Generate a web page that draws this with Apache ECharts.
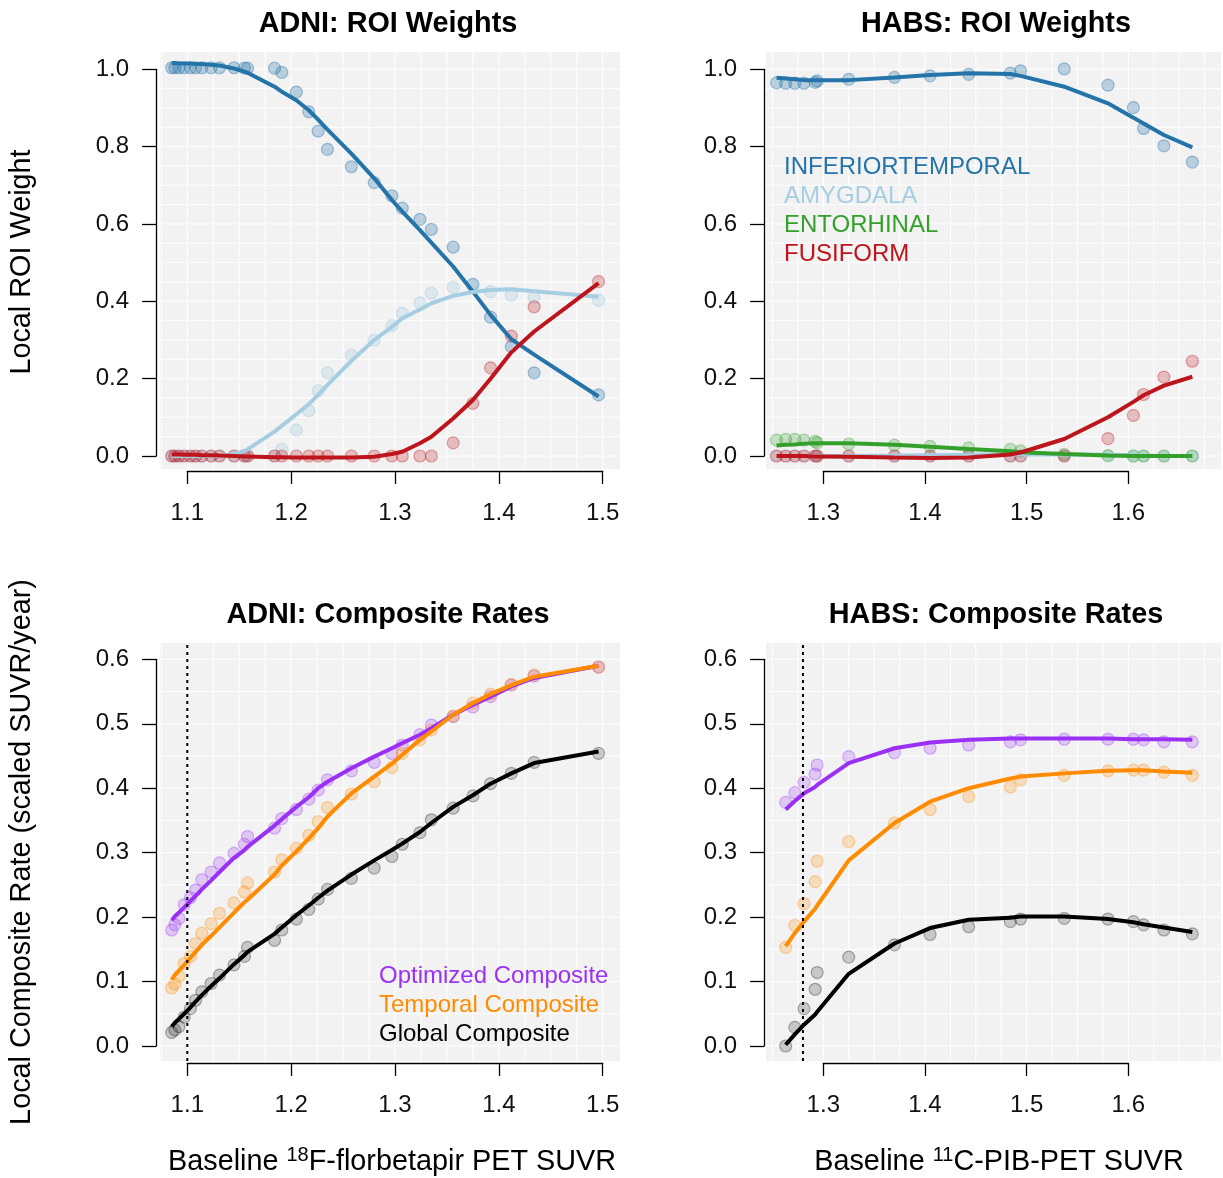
<!DOCTYPE html>
<html><head><meta charset="utf-8">
<script src="https://cdn.jsdelivr.net/npm/echarts@6/dist/echarts.min.js"></script>
<style>html,body{margin:0;padding:0;background:#fff}#c{width:1223px;height:1178px}</style>
</head><body><div id="c"></div>
<script>
// ================= DATA =================
const roiNames = ['INFERIORTEMPORAL', 'AMYGDALA', 'ENTORHINAL', 'FUSIFORM'];
const compNames = ['Optimized Composite', 'Temporal Composite', 'Global Composite'];
const panelTitles = ['ADNI: ROI Weights', 'HABS: ROI Weights', 'ADNI: Composite Rates', 'HABS: Composite Rates'];

const adniXTicks = [1.1, 1.2, 1.3, 1.4, 1.5];
const habsXTicks = [1.3, 1.4, 1.5, 1.6];
const roiYTicks = [0.0, 0.2, 0.4, 0.6, 0.8, 1.0];
const rateYTicks = [0.0, 0.1, 0.2, 0.3, 0.4, 0.5, 0.6];

const adniThreshold = 1.1;
const habsThreshold = 1.28;

// ADNI baseline SUVR bins
const adniX = [1.085, 1.088, 1.092, 1.097, 1.103, 1.108, 1.114, 1.123, 1.131, 1.145, 1.155, 1.158, 1.184, 1.191, 1.205, 1.217, 1.226, 1.235, 1.258, 1.280, 1.297, 1.307, 1.324, 1.335, 1.356, 1.375, 1.392, 1.412, 1.434, 1.496];
const adniInfTempPts = [1.004, 1.004, 1.004, 1.004, 1.004, 1.004, 1.004, 1.004, 1.004, 1.004, 1.003, 1.003, 1.003, 0.992, 0.941, 0.890, 0.840, 0.793, 0.748, 0.707, 0.673, 0.641, 0.612, 0.586, 0.540, 0.444, 0.359, 0.283, 0.215, 0.158];
const adniInfTempFit = [1.016, 1.016, 1.015, 1.015, 1.015, 1.014, 1.014, 1.012, 1.010, 1.002, 0.994, 0.991, 0.955, 0.942, 0.920, 0.894, 0.870, 0.844, 0.782, 0.718, 0.662, 0.632, 0.584, 0.552, 0.490, 0.425, 0.365, 0.302, 0.262, 0.154];
const adniAmygPts = [0, 0, 0, 0, 0, 0, 0, 0, 0, 0, 0, 0, 0, 0.017, 0.067, 0.117, 0.169, 0.215, 0.261, 0.300, 0.337, 0.369, 0.396, 0.421, 0.436, 0.440, 0.425, 0.416, 0.410, 0.403];
const adniAmygFit = [0, 0, 0, 0, 0, 0, 0, 0, 0, 0.005, 0.013, 0.017, 0.063, 0.078, 0.108, 0.134, 0.158, 0.184, 0.246, 0.300, 0.334, 0.356, 0.379, 0.395, 0.414, 0.424, 0.429, 0.431, 0.426, 0.412];
const adniFusiPts = [0, 0, 0, 0, 0, 0, 0, 0, 0, 0, 0, 0, 0, 0, 0, 0, 0, 0, 0, 0, 0, 0, 0, 0, 0.034, 0.136, 0.228, 0.310, 0.386, 0.451];
const adniFusiFit = [0.004, 0.004, 0.004, 0.003, 0.003, 0.003, 0.002, 0.002, 0.001, 0.000, -0.001, -0.001, -0.003, -0.003, -0.004, -0.004, -0.004, -0.004, -0.004, -0.002, 0.005, 0.011, 0.033, 0.050, 0.097, 0.145, 0.200, 0.268, 0.322, 0.447];

const adniOptPts = [0.180, 0.188, 0.198, 0.219, 0.230, 0.242, 0.258, 0.270, 0.284, 0.299, 0.313, 0.325, 0.338, 0.353, 0.367, 0.383, 0.397, 0.413, 0.427, 0.440, 0.454, 0.467, 0.483, 0.498, 0.511, 0.526, 0.542, 0.560, 0.574, 0.588];
const adniOptFit = [0.195, 0.201, 0.207, 0.215, 0.225, 0.233, 0.243, 0.257, 0.270, 0.292, 0.304, 0.309, 0.342, 0.352, 0.371, 0.386, 0.400, 0.410, 0.431, 0.449, 0.462, 0.470, 0.483, 0.493, 0.514, 0.529, 0.542, 0.558, 0.571, 0.590];
const adniTempPts = [0.090, 0.096, 0.108, 0.128, 0.139, 0.159, 0.175, 0.190, 0.206, 0.222, 0.239, 0.253, 0.270, 0.289, 0.307, 0.327, 0.348, 0.370, 0.391, 0.410, 0.432, 0.454, 0.475, 0.490, 0.512, 0.532, 0.546, 0.561, 0.576, 0.588];
const adniTempFit = [0.103, 0.110, 0.117, 0.126, 0.137, 0.146, 0.157, 0.171, 0.184, 0.207, 0.223, 0.227, 0.266, 0.280, 0.302, 0.322, 0.338, 0.356, 0.392, 0.418, 0.438, 0.452, 0.475, 0.488, 0.514, 0.532, 0.546, 0.560, 0.573, 0.590];
const adniGlobPts = [0.021, 0.025, 0.030, 0.045, 0.058, 0.071, 0.084, 0.097, 0.110, 0.126, 0.139, 0.153, 0.164, 0.180, 0.197, 0.212, 0.228, 0.243, 0.260, 0.276, 0.294, 0.313, 0.331, 0.351, 0.369, 0.388, 0.407, 0.423, 0.440, 0.454];
const adniGlobFit = [0.030, 0.036, 0.042, 0.050, 0.060, 0.069, 0.079, 0.093, 0.105, 0.127, 0.141, 0.146, 0.174, 0.184, 0.203, 0.218, 0.230, 0.241, 0.266, 0.288, 0.304, 0.314, 0.332, 0.346, 0.371, 0.389, 0.407, 0.423, 0.439, 0.457];

// HABS baseline SUVR bins
const habsX = [1.254, 1.263, 1.272, 1.281, 1.292, 1.294, 1.325, 1.370, 1.405, 1.443, 1.484, 1.494, 1.537, 1.580, 1.605, 1.615, 1.635, 1.663];
const habsInfTempPts = [0.965, 0.964, 0.964, 0.964, 0.966, 0.970, 0.974, 0.979, 0.983, 0.987, 0.990, 0.996, 1.001, 0.959, 0.901, 0.847, 0.802, 0.760];
const habsInfTempFit = [0.978, 0.976, 0.974, 0.972, 0.972, 0.972, 0.972, 0.979, 0.985, 0.990, 0.988, 0.983, 0.955, 0.912, 0.875, 0.860, 0.830, 0.798];
const habsAmygPts = [0, 0, 0, 0, 0, 0, 0, 0, 0, 0, 0, 0, 0, 0, 0, 0, 0, 0];
const habsAmygFit = [0, 0, 0, 0, 0, 0, 0, 0.001, 0.002, 0.003, 0.004, 0.004, 0.004, 0.003, 0.002, 0.001, 0, 0];
const habsEntoPts = [0.041, 0.043, 0.043, 0.041, 0.038, 0.034, 0.031, 0.028, 0.025, 0.021, 0.017, 0.013, 0.004, 0.001, 0, 0, 0, 0];
const habsEntoFit = [0.027, 0.029, 0.030, 0.032, 0.033, 0.033, 0.033, 0.029, 0.024, 0.018, 0.012, 0.010, 0.005, 0.001, 0, 0, 0, 0];
const habsFusiPts = [0, 0, 0, 0, 0, 0, 0, 0, 0, 0, 0, 0, 0, 0.045, 0.105, 0.159, 0.204, 0.245];
const habsFusiFit = [0, 0, 0, 0, -0.001, -0.001, -0.002, -0.004, -0.005, -0.004, 0.004, 0.009, 0.044, 0.100, 0.140, 0.157, 0.182, 0.205];

const habsRateX = [1.263, 1.272, 1.281, 1.292, 1.294, 1.325, 1.370, 1.405, 1.443, 1.484, 1.494, 1.537, 1.580, 1.605, 1.615, 1.635, 1.663];
const habsOptPts = [0.378, 0.393, 0.409, 0.422, 0.436, 0.449, 0.455, 0.462, 0.467, 0.472, 0.475, 0.476, 0.476, 0.476, 0.475, 0.472, 0.472];
const habsOptFit = [0.367, 0.380, 0.392, 0.402, 0.405, 0.439, 0.462, 0.471, 0.475, 0.477, 0.477, 0.477, 0.477, 0.476, 0.476, 0.476, 0.475];
const habsTempPts = [0.153, 0.187, 0.221, 0.255, 0.287, 0.317, 0.346, 0.367, 0.387, 0.402, 0.413, 0.420, 0.427, 0.428, 0.428, 0.425, 0.420];
const habsTempFit = [0.155, 0.175, 0.193, 0.213, 0.218, 0.288, 0.346, 0.379, 0.400, 0.415, 0.418, 0.423, 0.427, 0.428, 0.428, 0.426, 0.424];
const habsGlobPts = [0.000, 0.029, 0.058, 0.088, 0.114, 0.138, 0.157, 0.173, 0.185, 0.193, 0.197, 0.198, 0.197, 0.193, 0.188, 0.180, 0.174];
const habsGlobFit = [0.002, 0.018, 0.033, 0.049, 0.053, 0.112, 0.159, 0.183, 0.196, 0.199, 0.201, 0.201, 0.197, 0.192, 0.189, 0.184, 0.177];

// ================= STYLE / LAYOUT =================
const FONT = "'Liberation Sans', Arial, Helvetica, sans-serif";
const roiColors = ['#2574a9', '#a6cee3', '#33a02c', '#be141b'];
const compColors = ['#9b30f5', '#ff8c00', '#000000'];

// pixel positions of first/last tick, plot background rect, axis line positions
const LAYOUT = [
  { tick: { x0: 187.3, x1: 602.7, y0: 456, y1: 69.3 }, bg: { l: 160, r: 620, t: 52, b: 469 }, axX: 156, axY: 471, titleX: 388, titleY: 24 },
  { tick: { x0: 823.3, x1: 1128.3, y0: 456, y1: 69.3 }, bg: { l: 766, r: 1221, t: 52, b: 469 }, axX: 764, axY: 471, titleX: 996, titleY: 24 },
  { tick: { x0: 187.3, x1: 602.7, y0: 1046, y1: 659.3 }, bg: { l: 160, r: 620, t: 643, b: 1061 }, axX: 156, axY: 1063, titleX: 388, titleY: 615 },
  { tick: { x0: 823.3, x1: 1128.3, y0: 1046, y1: 659.3 }, bg: { l: 766, r: 1221, t: 643, b: 1061 }, axX: 764, axY: 1063, titleX: 996, titleY: 615 }
];

const panelTicks = [
  { xt: adniXTicks, yt: roiYTicks },
  { xt: habsXTicks, yt: roiYTicks },
  { xt: adniXTicks, yt: rateYTicks },
  { xt: habsXTicks, yt: rateYTicks }
];

function zip(xs, ys) { return xs.map((x, i) => [x, ys[i]]); }
function rgba(hex, a) {
  const n = parseInt(hex.slice(1), 16);
  return 'rgba(' + ((n >> 16) & 255) + ',' + ((n >> 8) & 255) + ',' + (n & 255) + ',' + a + ')';
}

const grids = [], xAxes = [], yAxes = [], series = [];

LAYOUT.forEach((L, p) => {
  const T = panelTicks[p];
  const xa = T.xt[0], xb = T.xt[T.xt.length - 1];
  const ya = T.yt[0], yb = T.yt[T.yt.length - 1];
  const sx = (L.tick.x1 - L.tick.x0) / (xb - xa);
  const sy = (L.tick.y0 - L.tick.y1) / (yb - ya);
  const bx0 = xa - (L.tick.x0 - L.bg.l) / sx;
  const bx1 = xb + (L.bg.r - L.tick.x1) / sx;
  const by0 = ya - (L.bg.b - L.tick.y0) / sy;
  const by1 = yb + (L.tick.y1 - L.bg.t) / sy;

  // background grid (data lives here)
  grids.push({ left: L.bg.l, top: L.bg.t, width: L.bg.r - L.bg.l, height: L.bg.b - L.bg.t,
    show: true, backgroundColor: '#f2f2f2', borderWidth: 0, containLabel: false, outerBoundsMode: 'none' });
  xAxes.push({ gridIndex: 2 * p, type: 'value', min: bx0, max: bx1, show: false });
  yAxes.push({ gridIndex: 2 * p, type: 'value', min: by0, max: by1, show: false });

  // axis grid (R-style axes spanning tick range)
  grids.push({ left: L.tick.x0, top: L.tick.y1, width: L.tick.x1 - L.tick.x0, height: L.tick.y0 - L.tick.y1,
    show: false, containLabel: false, outerBoundsMode: 'none' });
  const axStyle = { color: '#000', width: 1.3 };
  xAxes.push({ gridIndex: 2 * p + 1, type: 'value', position: 'bottom', min: xa, max: xb, interval: T.xt[1] - T.xt[0],
    offset: L.axY - L.tick.y0,
    axisLine: { show: true, onZero: false, lineStyle: axStyle },
    axisTick: { show: true, inside: false, length: 13, lineStyle: axStyle },
    axisLabel: { show: true, margin: 30, fontSize: 24, fontFamily: FONT, color: '#111', lineHeight: 24,
      formatter: v => v.toFixed(1) },
    splitLine: { show: false } });
  yAxes.push({ gridIndex: 2 * p + 1, type: 'value', position: 'left', min: ya, max: yb, interval: T.yt[1] - T.yt[0],
    offset: L.tick.x0 - L.axX,
    axisLine: { show: true, onZero: false, lineStyle: axStyle },
    axisTick: { show: true, inside: false, length: 14, lineStyle: axStyle },
    axisLabel: { show: true, margin: 27, fontSize: 24, fontFamily: FONT, color: '#111',
      formatter: v => v.toFixed(1) },
    splitLine: { show: false } });

  // white grid lines (every 0.025 in x, 0.05 in y)
  const gl = [];
  for (let k = Math.ceil(bx0 / 0.025 - 1e-9); k * 0.025 <= bx1; k++) {
    const v = +(k * 0.025).toFixed(4);
    gl.push([v, by0], [v, by1], [v, '-']);
  }
  for (let k = Math.ceil(by0 / 0.05 - 1e-9); k * 0.05 <= by1; k++) {
    const v = +(k * 0.05).toFixed(4);
    gl.push([bx0, v], [bx1, v], ['-', v]);
  }
  series.push({ type: 'line', xAxisIndex: 2 * p, yAxisIndex: 2 * p, data: gl, symbol: 'none', silent: true,
    connectNulls: false, lineStyle: { color: '#ffffff', width: 1 }, z: 1, animation: false });
});

function addPanelSeries(p, x, groups) {
  groups.forEach(g => {
    series.push({ type: 'scatter', name: g.name, xAxisIndex: 2 * p, yAxisIndex: 2 * p,
      data: zip(x, g.pts), symbol: 'circle', symbolSize: 12, silent: true, z: 2,
      itemStyle: { color: rgba(g.color, g.alpha), borderColor: rgba(g.color, g.alpha + 0.15), borderWidth: 1.2 } });
  });
  groups.forEach(g => {
    series.push({ type: 'line', name: g.name, xAxisIndex: 2 * p, yAxisIndex: 2 * p,
      data: zip(x, g.fit), symbol: 'none', showSymbol: false, silent: true, z: 3,
      lineStyle: { color: g.color, width: 4 } });
  });
}

addPanelSeries(0, adniX, [
  { name: roiNames[0], pts: adniInfTempPts, fit: adniInfTempFit, color: roiColors[0], alpha: 0.35 },
  { name: roiNames[1], pts: adniAmygPts, fit: adniAmygFit, color: roiColors[1], alpha: 0.38 },
  { name: roiNames[3], pts: adniFusiPts, fit: adniFusiFit, color: roiColors[3], alpha: 0.3 }
]);
addPanelSeries(1, habsX, [
  { name: roiNames[0], pts: habsInfTempPts, fit: habsInfTempFit, color: roiColors[0], alpha: 0.35 },
  { name: roiNames[1], pts: habsAmygPts, fit: habsAmygFit, color: roiColors[1], alpha: 0.38 },
  { name: roiNames[2], pts: habsEntoPts, fit: habsEntoFit, color: roiColors[2], alpha: 0.3 },
  { name: roiNames[3], pts: habsFusiPts, fit: habsFusiFit, color: roiColors[3], alpha: 0.3 }
]);
addPanelSeries(2, adniX, [
  { name: compNames[0], pts: adniOptPts, fit: adniOptFit, color: compColors[0], alpha: 0.28 },
  { name: compNames[1], pts: adniTempPts, fit: adniTempFit, color: compColors[1], alpha: 0.28 },
  { name: compNames[2], pts: adniGlobPts, fit: adniGlobFit, color: compColors[2], alpha: 0.22 }
]);
addPanelSeries(3, habsRateX, [
  { name: compNames[0], pts: habsOptPts, fit: habsOptFit, color: compColors[0], alpha: 0.28 },
  { name: compNames[1], pts: habsTempPts, fit: habsTempFit, color: compColors[1], alpha: 0.28 },
  { name: compNames[2], pts: habsGlobPts, fit: habsGlobFit, color: compColors[2], alpha: 0.22 }
]);

// dotted threshold lines
[[2, adniThreshold], [3, habsThreshold]].forEach(([p, xv]) => {
  const yMin = yAxes[2 * p].min, yMax = yAxes[2 * p].max;
  series.push({ type: 'line', xAxisIndex: 2 * p, yAxisIndex: 2 * p, data: [[xv, yMin], [xv, yMax]],
    symbol: 'none', silent: true, z: 4, lineStyle: { color: '#000', width: 2, type: [3, 4] } });
});

// ================= TEXT =================
function txt(x, y, text, o) {
  o = o || {};
  return { type: 'text', x: x, y: y, rotation: o.rot || 0, silent: true, z: 10,
    style: { text: text, fill: o.fill || '#000', fontSize: o.size || 24, fontWeight: o.weight || 'normal',
      fontFamily: FONT, align: o.align || 'left', verticalAlign: 'middle',
      textAlign: o.align || 'left', textVerticalAlign: 'middle', rich: o.rich } };
}
const graphics = [];
LAYOUT.forEach((L, p) => graphics.push(txt(L.titleX, L.titleY, panelTitles[p], { size: 28.8, weight: 'bold', align: 'center' })));
roiNames.forEach((n, i) => graphics.push(txt(784, 167 + 29 * i, n, { fill: roiColors[i] })));
compNames.forEach((n, i) => graphics.push(txt(379, 976 + 29 * i, n, { fill: compColors[i] })));
graphics.push(txt(22, 262, 'Local ROI Weight', { size: 28.8, align: 'center', rot: Math.PI / 2 }));
graphics.push(txt(22, 852, 'Local Composite Rate (scaled SUVR/year)', { size: 28.8, align: 'center', rot: Math.PI / 2 }));
const rich = {
  n: { fontSize: 28.8, fontFamily: FONT, fill: '#000', lineHeight: 34, verticalAlign: 'middle' },
  s: { fontSize: 20, fontFamily: FONT, fill: '#000', lineHeight: 22, verticalAlign: 'top' }
};
graphics.push(txt(392, 1162, '{n|Baseline }{s|18}{n|F-florbetapir PET SUVR}', { align: 'center', rich: rich }));
graphics.push(txt(999, 1162, '{n|Baseline }{s|11}{n|C-PIB-PET SUVR}', { align: 'center', rich: rich }));

const chart = echarts.init(document.getElementById('c'), null, { renderer: 'canvas' });
chart.setOption({
  animation: false,
  backgroundColor: '#ffffff',
  grid: grids, xAxis: xAxes, yAxis: yAxes, series: series,
  graphic: { elements: graphics }
});
</script>
</body></html>
